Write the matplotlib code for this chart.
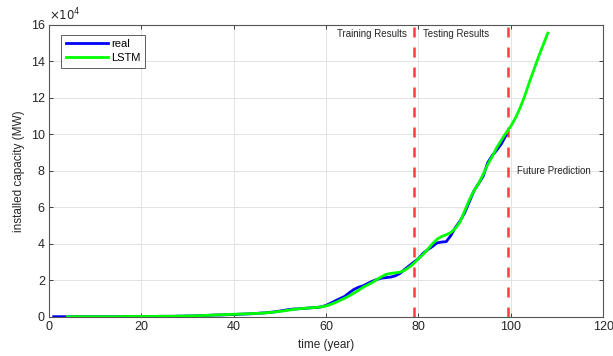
import numpy as np
import matplotlib
matplotlib.use("Agg")
import matplotlib.pyplot as plt

# ---------- Data (installed capacity, units of 1e4 MW) ----------
real_years = list(range(1, 100))
real_vals = [
    0.01, 0.01, 0.01, 0.01, 0.01, 0.01, 0.01, 0.01, 0.01, 0.01,
    0.01, 0.01, 0.01, 0.01, 0.01, 0.02, 0.02, 0.02, 0.02, 0.02,
    0.02, 0.02, 0.02, 0.03, 0.03, 0.03, 0.03, 0.04, 0.04, 0.05,
    0.05, 0.06, 0.07, 0.08, 0.09, 0.10, 0.10, 0.11, 0.12, 0.13,
    0.14, 0.15, 0.16, 0.17, 0.19, 0.21, 0.22, 0.25, 0.28, 0.32,
    0.36, 0.40, 0.43, 0.44, 0.46, 0.48, 0.50, 0.51, 0.55, 0.63,
    0.75, 0.88, 1.00, 1.12, 1.32, 1.50, 1.62, 1.70, 1.83, 1.95,
    2.05, 2.12, 2.15, 2.18, 2.25, 2.38, 2.60, 2.80, 3.00, 3.20,
    3.48, 3.68, 3.85, 4.05, 4.10, 4.12, 4.45, 4.90, 5.25, 5.70,
    6.30, 6.90, 7.30, 7.70, 8.45, 8.85, 9.15, 9.50, 9.97,
]

lstm_years = list(range(4, 109))
lstm_vals = [
    0.01, 0.01, 0.01, 0.01, 0.01, 0.01, 0.01,
    0.01, 0.01, 0.01, 0.01, 0.01, 0.02, 0.02, 0.02, 0.02, 0.02,
    0.02, 0.02, 0.02, 0.03, 0.03, 0.03, 0.03, 0.04, 0.04, 0.05,
    0.05, 0.06, 0.07, 0.08, 0.09, 0.10, 0.11, 0.12, 0.13, 0.14,
    0.15, 0.16, 0.17, 0.18, 0.19, 0.20, 0.22, 0.24, 0.27, 0.30,
    0.33, 0.37, 0.41, 0.44, 0.46, 0.48, 0.50, 0.52, 0.55, 0.60,
    0.68, 0.78, 0.90, 1.02, 1.15, 1.30, 1.45, 1.62, 1.75, 1.88,
    2.05, 2.20, 2.33, 2.38, 2.41, 2.45, 2.55, 2.72, 2.93, 3.20,
    3.42, 3.70, 4.00, 4.25, 4.40, 4.50, 4.62, 4.85, 5.20, 5.80,
    6.40, 6.90, 7.30, 7.80, 8.35, 8.80, 9.30, 9.70, 10.10, 10.45,
    10.90, 11.45, 12.10, 12.85, 13.55, 14.25, 14.90, 15.55,
]

split_years = [79, 99.4]
phase_labels = ["Training Results", "Testing Results", "Future Prediction"]

# ---------- Plot ----------
plt.rcParams["font.family"] = ["Liberation Sans", "DejaVu Sans"]
txt_col = "#262626"

fig = plt.figure(figsize=(6.13, 3.56), dpi=100)
ax = fig.add_axes([0.080, 0.110, 0.904, 0.820])

ax.plot(real_years, real_vals, color="#0000ff", lw=2.0, label="real", zorder=3)
ax.plot(lstm_years, lstm_vals, color="#00ff00", lw=2.0, label="LSTM", zorder=4)
for xs in split_years:
    ax.axvline(xs, color="#ff3b3b", lw=1.8, ls=(0, (4, 4)), zorder=2)

ax.text(split_years[0] - 1.6, 15.5, phase_labels[0], fontsize=7,
        ha="right", va="center", color=txt_col)
ax.text(split_years[0] + 2.0, 15.5, phase_labels[1], fontsize=7,
        ha="left", va="center", color=txt_col)
ax.text(split_years[1] + 2.0, 8.0, phase_labels[2], fontsize=7,
        ha="left", va="center", color=txt_col)

ax.set_xlim(0, 120)
ax.set_ylim(0, 16)
ax.set_xticks(np.arange(0, 121, 20))
ax.set_yticks(np.arange(0, 17, 2))

# MATLAB style exponent above the y axis
ax.text(0.0, 1.005, r"$\times10^{4}$", transform=ax.transAxes, fontsize=8.5,
        ha="left", va="bottom", color=txt_col)

ax.grid(True, color="#e3e3e3", lw=0.7)
ax.set_axisbelow(True)
ax.tick_params(direction="in", length=3, width=0.6, labelsize=9,
               colors=txt_col, top=True, right=True, pad=3)
for sp in ax.spines.values():
    sp.set_color("#555555")
    sp.set_linewidth(0.8)

ax.set_xlabel("time (year)", fontsize=8.5, color=txt_col, labelpad=4)
ax.set_ylabel("installed capacity (MW)", fontsize=8.5, color=txt_col, labelpad=4)

leg = ax.legend(loc="upper left", fontsize=8, frameon=True, fancybox=False,
                handlelength=3.8, borderpad=0.4, labelspacing=0.35,
                handletextpad=0.3, bbox_to_anchor=(0.012, 0.985))
leg.get_frame().set_edgecolor("#333333")
leg.get_frame().set_linewidth(0.7)

fig.savefig("out.png", dpi=100)
